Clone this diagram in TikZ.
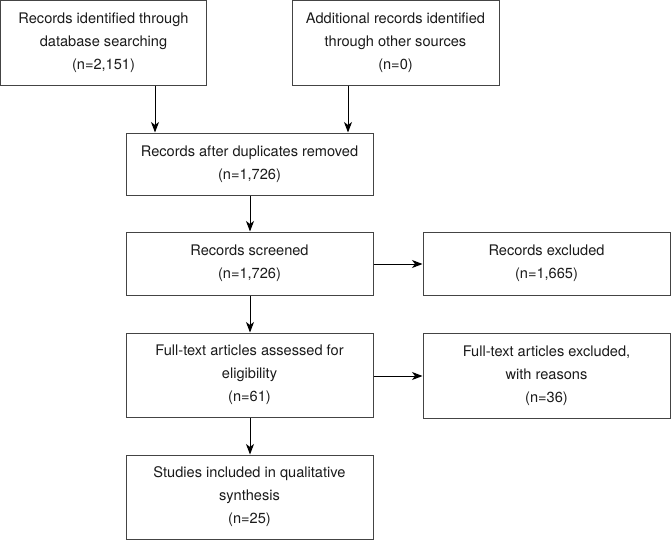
\documentclass[tikz,border=0pt]{standalone}
\usepackage{fontspec}
\setmainfont{TeX Gyre Heros}
\usetikzlibrary{arrows.meta}
\definecolor{boxline}{HTML}{444444}
\definecolor{txt}{HTML}{1A1A1A}
\begin{document}
\begin{tikzpicture}[x=1pt,y=-1pt,
  box/.style={draw=boxline,line width=1pt,inner sep=0pt,align=center,
    text=txt,font=\fontsize{14.6}{23}\selectfont},
  arr/.style={-{Stealth[length=10.5pt,width=8pt,inset=3pt]},line width=1pt,black}]
\useasboundingbox (0,0) rectangle (671,541);
% boxes
\node[box,minimum width=206pt,minimum height=84.5pt] (a) at (103.5,42.75) {Records identified through\\database searching\\(n=2,151)};
\node[box,minimum width=207pt,minimum height=84.5pt] (b) at (395.5,42.75) {Additional records identified\\through other sources\\(n=0)};
\node[box,minimum width=247pt,minimum height=62pt] (c) at (249.5,164) {Records after duplicates removed\\(n=1,726)};
\node[box,minimum width=247pt,minimum height=63pt] (d) at (249.5,263.5) {Records screened\\(n=1,726)};
\node[box,minimum width=247pt,minimum height=63pt] (e) at (546.5,263.5) {Records excluded\\(n=1,665)};
\node[box,minimum width=247pt,minimum height=84pt] (f) at (249.5,375) {Full-text articles assessed for\\eligibility\\(n=61)};
\node[box,minimum width=247pt,minimum height=85pt] (fx) at (546.5,375.5) {Full-text articles excluded,\\with reasons\\(n=36)};
\node[box,minimum width=247pt,minimum height=84pt] (g) at (249.5,497) {Studies included in qualitative\\synthesis\\(n=25)};
% connector guide coordinates
\coordinate (xa) at (155,0);
\coordinate (xb) at (348,0);
\coordinate (xm) at (250,0);
\coordinate (yd) at (0,264);
\coordinate (yf) at (0,376);
\draw[arr] (a.south -| xa) -- (c.north -| xa);
\draw[arr] (b.south -| xb) -- (c.north -| xb);
\draw[arr] (c.south -| xm) -- (d.north -| xm);
\draw[arr] (d.east |- yd) -- (e.west |- yd);
\draw[arr] (d.south -| xm) -- (f.north -| xm);
\draw[arr] (f.east |- yf) -- (fx.west |- yf);
\draw[arr] (f.south -| xm) -- (g.north -| xm);
\end{tikzpicture}
\end{document}
